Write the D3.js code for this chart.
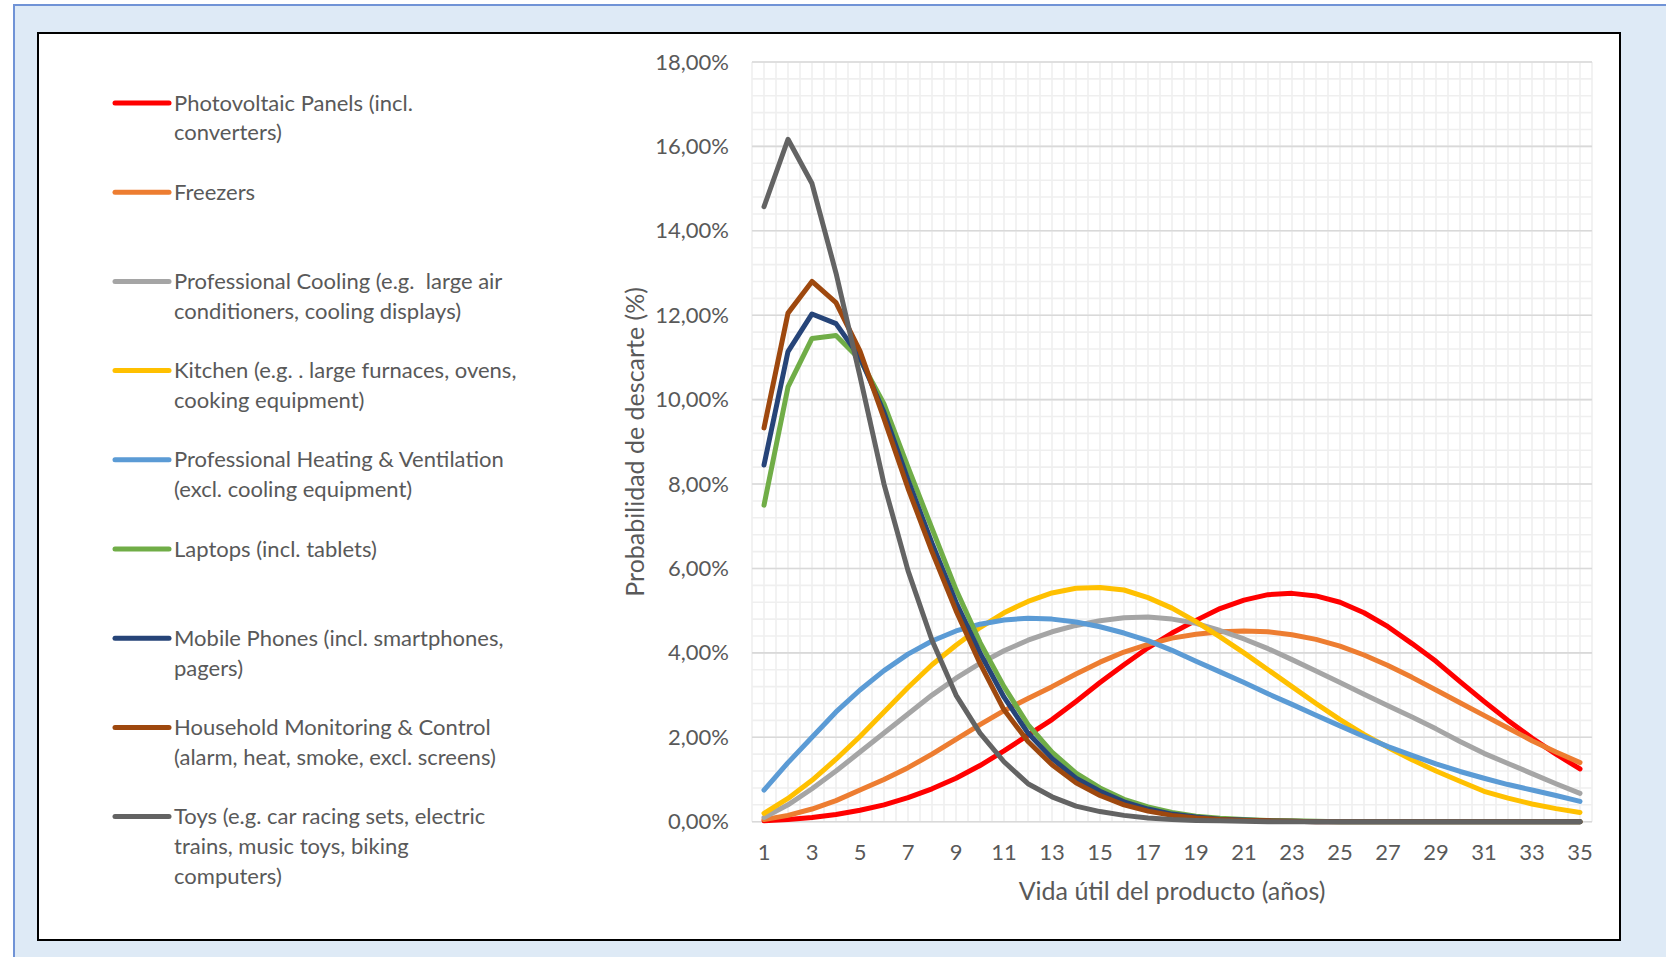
<!DOCTYPE html>
<html>
<head>
<meta charset="utf-8">
<script src="https://cdn.jsdelivr.net/npm/d3@7"></script>
<style>
  html, body { margin: 0; padding: 0; background: #ffffff; }
  svg { display: block; }
  text { font-family: Lato, "Open Sans", "Liberation Sans", sans-serif; fill: #595959; }
</style>
</head>
<body>
<svg id="chart" width="1666" height="957"></svg>
<script>
// Product lifetime (years)
const years = [1, 2, 3, 4, 5, 6, 7, 8, 9, 10, 11, 12, 13, 14, 15, 16, 17, 18, 19, 20,
               21, 22, 23, 24, 25, 26, 27, 28, 29, 30, 31, 32, 33, 34, 35];

// Discard probability per year, in %
const photovoltaic = [0.02, 0.05, 0.10, 0.17, 0.27, 0.40, 0.57, 0.78, 1.03, 1.33, 1.68, 2.05, 2.42, 2.85, 3.30,
                      3.72, 4.12, 4.47, 4.77, 5.05, 5.25, 5.38, 5.41, 5.35, 5.20, 4.95, 4.62, 4.22, 3.80, 3.32,
                      2.85, 2.40, 1.98, 1.60, 1.25];
const freezers = [0.05, 0.15, 0.30, 0.50, 0.75, 1.00, 1.28, 1.60, 1.95, 2.30, 2.63, 2.92, 3.20, 3.50, 3.78,
                  4.02, 4.20, 4.35, 4.44, 4.50, 4.52, 4.50, 4.43, 4.32, 4.16, 3.95, 3.70, 3.42, 3.12, 2.82,
                  2.52, 2.22, 1.92, 1.65, 1.40];
const profCooling = [0.10, 0.40, 0.78, 1.20, 1.65, 2.10, 2.55, 3.00, 3.40, 3.75, 4.05, 4.30, 4.50, 4.65, 4.76,
                     4.83, 4.85, 4.80, 4.70, 4.53, 4.33, 4.10, 3.84, 3.57, 3.30, 3.02, 2.75, 2.48, 2.20, 1.90,
                     1.62, 1.38, 1.14, 0.90, 0.67];
const kitchen = [0.20, 0.55, 0.98, 1.48, 2.02, 2.60, 3.18, 3.72, 4.18, 4.60, 4.95, 5.22, 5.42, 5.53, 5.55,
                 5.49, 5.31, 5.06, 4.74, 4.38, 4.00, 3.60, 3.20, 2.80, 2.42, 2.07, 1.76, 1.47, 1.20, 0.96,
                 0.72, 0.56, 0.42, 0.31, 0.22];
const heatingVent = [0.75, 1.40, 2.00, 2.60, 3.12, 3.58, 3.97, 4.28, 4.52, 4.68, 4.78, 4.82, 4.80, 4.73, 4.62,
                     4.47, 4.29, 4.06, 3.80, 3.55, 3.30, 3.03, 2.78, 2.52, 2.27, 2.02, 1.78, 1.57, 1.37, 1.19,
                     1.03, 0.88, 0.75, 0.62, 0.48];
const laptops = [7.50, 10.30, 11.45, 11.52, 10.95, 9.90, 8.40, 6.95, 5.50, 4.25, 3.20, 2.30, 1.65, 1.15, 0.80,
                 0.53, 0.35, 0.22, 0.13, 0.08, 0.05, 0.03, 0.02, 0.01, 0, 0, 0, 0, 0, 0,
                 0, 0, 0, 0, 0];
const mobilePhones = [8.45, 11.14, 12.03, 11.80, 11.00, 9.70, 8.10, 6.60, 5.20, 4.00, 2.95, 2.10, 1.50, 1.03, 0.72,
                      0.47, 0.30, 0.18, 0.11, 0.06, 0.04, 0.02, 0.01, 0, 0, 0, 0, 0, 0, 0,
                      0, 0, 0, 0, 0];
const household = [9.33, 12.05, 12.80, 12.30, 11.15, 9.55, 7.90, 6.40, 5.00, 3.75, 2.65, 1.90, 1.35, 0.92, 0.62,
                   0.40, 0.25, 0.15, 0.09, 0.05, 0.03, 0.02, 0.01, 0, 0, 0, 0, 0, 0, 0,
                   0, 0, 0, 0, 0];
const toys = [14.57, 16.17, 15.12, 13.00, 10.55, 8.00, 5.95, 4.30, 3.00, 2.10, 1.42, 0.90, 0.59, 0.37, 0.24,
              0.15, 0.09, 0.05, 0.03, 0.02, 0.01, 0, 0, 0, 0, 0, 0, 0, 0, 0,
              0, 0, 0, 0, 0];

// Legend names (line breaks as laid out in the legend)
const seriesNames = [
  "Photovoltaic Panels (incl.\nconverters)",
  "Freezers",
  "Professional Cooling (e.g.  large air\nconditioners, cooling displays)",
  "Kitchen (e.g. . large furnaces, ovens,\ncooking equipment)",
  "Professional Heating & Ventilation\n(excl. cooling equipment)",
  "Laptops (incl. tablets)",
  "Mobile Phones (incl. smartphones,\npagers)",
  "Household Monitoring & Control\n(alarm, heat, smoke, excl. screens)",
  "Toys (e.g. car racing sets, electric\ntrains, music toys, biking\ncomputers)"
];
const seriesValues = [photovoltaic, freezers, profCooling, kitchen, heatingVent,
                      laptops, mobilePhones, household, toys];
const seriesColors = ["#FF0000", "#ED7D31", "#A5A5A5", "#FFC000", "#5B9BD5",
                      "#70AD47", "#264478", "#9E480E", "#636363"];

// Axis ticks
const yTicks = [0, 2, 4, 6, 8, 10, 12, 14, 16, 18];
const xTickLabels = [1, 3, 5, 7, 9, 11, 13, 15, 17, 19, 21, 23, 25, 27, 29, 31, 33, 35];
const xTitle = "Vida útil del producto (años)";
const yTitle = "Probabilidad de descarte (%)";

const svg = d3.select("#chart");

// Page background and chart frame
svg.append("rect")
  .attr("x", 14).attr("y", 5).attr("width", 1700).attr("height", 1000)
  .attr("fill", "#DEEAF6").attr("stroke", "#7093D6").attr("stroke-width", 2);
svg.append("rect")
  .attr("x", 38).attr("y", 33).attr("width", 1582).attr("height", 907)
  .attr("fill", "#ffffff").attr("stroke", "#000000").attr("stroke-width", 2);

const plot = { left: 752, right: 1592, top: 62, bottom: 821.7 };

const x = d3.scaleBand().domain(years).range([plot.left, plot.right]).paddingInner(0).paddingOuter(0);
const xc = d => x(d) + x.bandwidth() / 2;
const y = d3.scaleLinear().domain([0, 18]).range([plot.bottom, plot.top]);

const locale = d3.formatLocale({ decimal: ",", thousands: ".", grouping: [3], currency: ["", " €"] });
const fmt = locale.format(".2f");

// Gridlines
const grid = svg.append("g");
const minorY = d3.range(0, 18.0001, 0.4);
grid.selectAll("line.hminor").data(minorY).join("line")
  .attr("x1", plot.left).attr("x2", plot.right)
  .attr("y1", d => y(d)).attr("y2", d => y(d))
  .attr("stroke", "#EFEFEF").attr("stroke-width", 1.6);
const halfSteps = [];
years.forEach(d => { halfSteps.push(x(d)); halfSteps.push(x(d) + x.bandwidth() / 2); });
halfSteps.push(plot.right);
grid.selectAll("line.vminor").data(halfSteps).join("line")
  .attr("x1", d => d).attr("x2", d => d)
  .attr("y1", plot.top).attr("y2", plot.bottom)
  .attr("stroke", "#EFEFEF").attr("stroke-width", 1.6);
grid.selectAll("line.hmajor").data(yTicks).join("line")
  .attr("x1", plot.left).attr("x2", plot.right)
  .attr("y1", d => y(d)).attr("y2", d => y(d))
  .attr("stroke", "#D9D9D9").attr("stroke-width", 1.6);

// Axes
const xAxis = d3.axisBottom(x).tickValues(xTickLabels).tickSize(0).tickPadding(23);
const gx = svg.append("g").attr("transform", `translate(0,${plot.bottom})`).call(xAxis);
gx.select(".domain").remove();
gx.selectAll("text").style("font-size", "22px").attr("fill", "#595959");

const yAxis = d3.axisLeft(y).tickValues(yTicks).tickSize(0).tickPadding(23)
  .tickFormat(d => fmt(d) + "%");
const gy = svg.append("g").attr("transform", `translate(${plot.left},0)`).call(yAxis);
gy.select(".domain").remove();
gy.selectAll("text").style("font-size", "22px").attr("fill", "#595959");

// Axis titles
svg.append("text")
  .attr("x", (plot.left + plot.right) / 2).attr("y", 900)
  .attr("text-anchor", "middle").style("font-size", "25px")
  .text(xTitle);
svg.append("text")
  .attr("transform", `translate(644,${(plot.top + plot.bottom) / 2}) rotate(-90)`)
  .attr("text-anchor", "middle").style("font-size", "25px")
  .text(yTitle);

// Series lines
const line = d3.line().x((d, i) => xc(years[i])).y(d => y(d));
svg.append("g").selectAll("path").data(seriesValues).join("path")
  .attr("d", d => line(d))
  .attr("fill", "none")
  .attr("stroke", (d, i) => seriesColors[i])
  .attr("stroke-width", 5)
  .attr("stroke-linejoin", "round")
  .attr("stroke-linecap", "round");

// Legend
const legendTop = 103, legendStep = 89.2;
const lg = svg.append("g");
seriesNames.forEach((name, i) => {
  const cy = legendTop + i * legendStep;
  lg.append("line")
    .attr("x1", 115).attr("x2", 169).attr("y1", cy).attr("y2", cy)
    .attr("stroke", seriesColors[i]).attr("stroke-width", 5).attr("stroke-linecap", "round");
  const t = lg.append("text").attr("x", 174).attr("y", cy + 7.5)
    .style("font-size", "22px").style("white-space", "pre");
  name.split("\n").forEach((ln, j) => {
    t.append("tspan").attr("x", 174).attr("dy", j === 0 ? 0 : 29.8).text(ln);
  });
});
</script>
</body>
</html>
